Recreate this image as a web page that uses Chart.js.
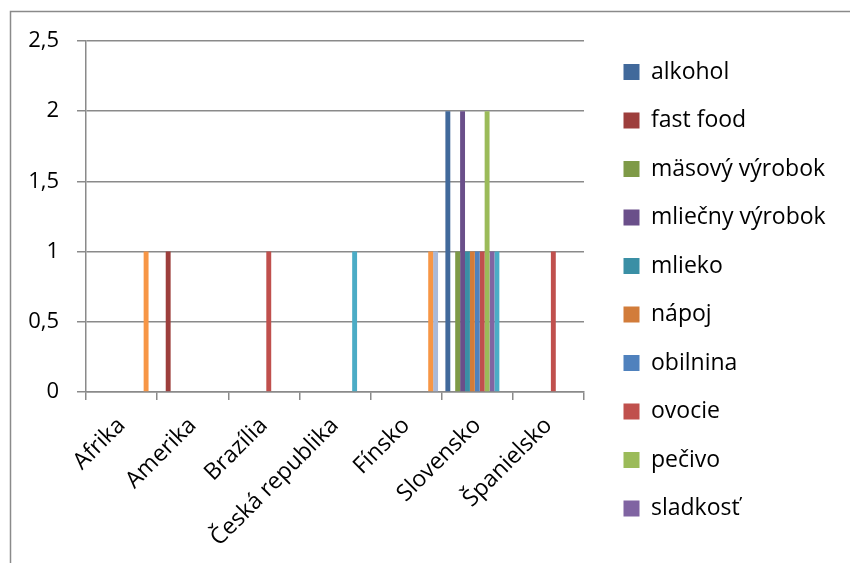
<!DOCTYPE html>
<html>
<head>
<meta charset="utf-8">
<title>Potraviny podľa krajín</title>
<script src="https://cdn.jsdelivr.net/npm/chart.js@4.4.1/dist/chart.umd.min.js"></script>
<style>
  html, body { margin: 0; padding: 0; background: #fff; }
</style>
</head>
<body>
<canvas id="chart" width="850" height="563"></canvas>
<script>
const countries = ['Afrika', 'Amerika', 'Brazília', 'Česká republika', 'Fínsko', 'Slovensko', 'Španielsko'];
const yTickLabels = ['0', '0,5', '1', '1,5', '2', '2,5'];

// one array per food type, values in the order of countries
const alkohol        = [0, 0, 0, 0, 0, 2, 0];
const fastFood       = [0, 1, 0, 0, 0, 0, 0];
const masovyVyrobok  = [0, 0, 0, 0, 0, 1, 0];
const mliecnyVyrobok = [0, 0, 0, 0, 0, 2, 0];
const mlieko         = [0, 0, 0, 0, 0, 1, 0];
const napoj          = [0, 0, 0, 0, 0, 1, 0];
const obilnina       = [0, 0, 0, 0, 0, 1, 0];
const ovocie         = [0, 0, 1, 0, 0, 1, 1];
const pecivo         = [0, 0, 0, 0, 0, 2, 0];
const sladkost       = [0, 0, 0, 0, 0, 1, 0];
const syr            = [0, 0, 0, 1, 0, 1, 0];
const voda           = [1, 0, 0, 0, 1, 0, 0];
const zelenina       = [0, 0, 0, 0, 1, 0, 0];

const seriesNames = ['alkohol', 'fast food', 'mäsový výrobok', 'mliečny výrobok', 'mlieko', 'nápoj',
    'obilnina', 'ovocie', 'pečivo', 'sladkosť', 'syr', 'voda', 'zelenina'];
const seriesValues = [alkohol, fastFood, masovyVyrobok, mliecnyVyrobok, mlieko, napoj,
    obilnina, ovocie, pecivo, sladkost, syr, voda, zelenina];
const seriesColors = ['#41699B', '#9D3E3C', '#7E9A47', '#6A4F8A', '#3A8FA5', '#D27C3A',
    '#4F81BD', '#C0504D', '#9BBB59', '#8064A2', '#4BACC6', '#F79646', '#AAB9D8'];

const gridGray = '#8a8a8a';

Chart.defaults.font.family = "'Open Sans', sans-serif";
Chart.defaults.color = '#000';

// outer frame of the chart object
const framePlugin = {
    id: 'frame',
    beforeDraw(chart) {
        const ctx = chart.ctx;
        ctx.save();
        ctx.fillStyle = '#fff';
        ctx.fillRect(0, 0, chart.width, chart.height);
        ctx.strokeStyle = gridGray;
        ctx.lineWidth = 1.5;
        ctx.strokeRect(10.5, 11.5, chart.width + 20, chart.height + 20);
        ctx.restore();
    }
};

// move the legend a bit away from the plot
const legendPlace = {
    id: 'legendPlace',
    afterLayout(chart) {
        const lg = chart.legend;
        lg.left = 598;
        lg.right = chart.width;
        lg.width = lg.right - lg.left;
    }
};

const datasets = seriesNames.map((name, i) => ({
    label: name,
    data: seriesValues[i],
    backgroundColor: seriesColors[i],
    borderWidth: 0
}));

new Chart(document.getElementById('chart'), {
    type: 'bar',
    data: { labels: countries, datasets: datasets },
    plugins: [framePlugin, legendPlace],
    options: {
        responsive: false,
        animation: false,
        categoryPercentage: 13 / 14.5,
        barPercentage: 1,
        layout: { padding: { top: 31, bottom: 13.5, left: 0, right: 66 } },
        scales: {
            x: {
                grid: { display: true, drawOnChartArea: false, drawTicks: true, tickLength: 8, color: gridGray, lineWidth: 1.5 },
                border: { color: gridGray, width: 1.5 },
                ticks: { minRotation: 45, maxRotation: 45, autoSkip: false, padding: 12, font: { size: 23 } },
                afterFit(scale) { scale.height = 157.5; }
            },
            y: {
                min: 0,
                max: 2.5,
                grid: { color: gridGray, lineWidth: 1.5, tickLength: 9 },
                border: { color: gridGray, width: 1.5 },
                ticks: {
                    stepSize: 0.5,
                    padding: 18,
                    font: { size: 22 },
                    callback: (v, i) => yTickLabels[i]
                },
                afterFit(scale) { scale.width = 86; }
            }
        },
        plugins: {
            // empty spacer so the plot starts lower than the legend
            title: { display: true, text: '', fullSize: false, padding: 0, font: { size: 10, lineHeight: 1 } },
            legend: {
                position: 'right',
                maxWidth: 200,
                labels: {
                    boxWidth: 16,
                    boxHeight: 16,
                    padding: 25.5,
                    font: { size: 23 },
                    filter: item => item.datasetIndex < 10
                }
            },
            tooltip: { enabled: false }
        }
    }
});
</script>
</body>
</html>
